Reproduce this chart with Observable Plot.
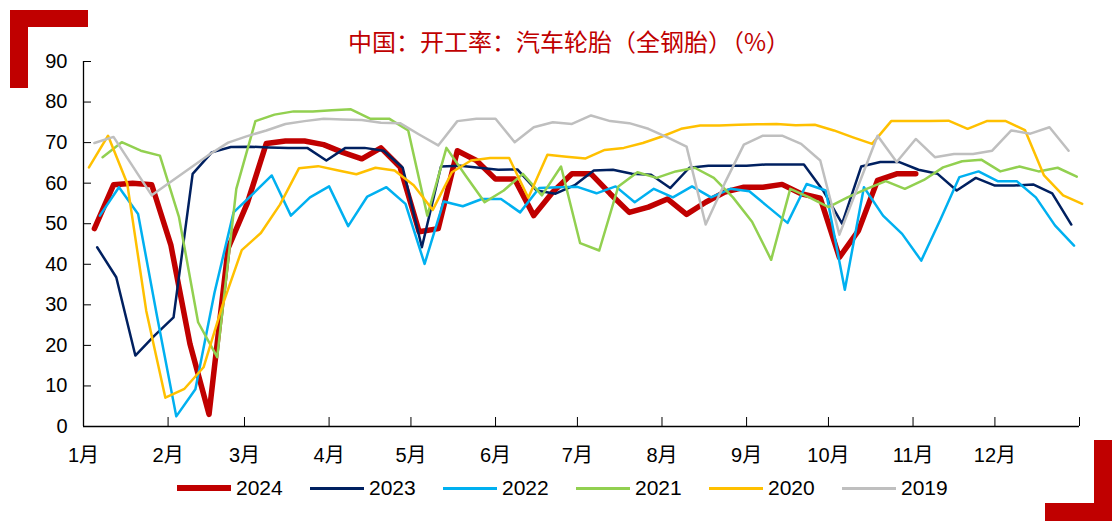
<!DOCTYPE html>
<html><head><meta charset="utf-8">
<script src="https://cdn.jsdelivr.net/npm/d3@7"></script>
<script src="https://cdn.jsdelivr.net/npm/@observablehq/plot@0.6"></script>
<style>
body{margin:0;background:#fff;}
#wrap{position:relative;width:1112px;height:521px;overflow:hidden;background:#fff;font-family:"Liberation Sans",Arial,"Noto Sans CJK SC",sans-serif;}
#title{position:absolute;left:0;width:1138px;top:25px;text-align:center;color:#C00000;font-size:24px;line-height:32px;font-family:"Noto Sans CJK SC",sans-serif;white-space:nowrap;}
.brk{position:absolute;background:#C00000;}
.lg{position:absolute;top:476px;height:24px;}
.sw{position:absolute;left:0;width:54px;}
.lt{position:absolute;left:59px;top:0;font-size:21px;line-height:24px;color:#000;}
svg{position:absolute;left:0;top:0;}
</style></head><body><div id="wrap"></div>
<script>
// ---- data ----
const years = ["2024","2023","2022","2021","2020","2019"];
const colors = ["#C00000","#002060","#00B0F0","#92D050","#FFC000","#BFBFBF"];
const widths = [5.5,2.5,2.5,2.5,2.5,2.5];
// first weekly observation (day in January) of each year
const startDay = [5,6,7,8,3,5];
const monthLabels = ["1月","2月","3月","4月","5月","6月","7月","8月","9月","10月","11月","12月"];
const yTicks = [0,10,20,30,40,50,60,70,80,90];

const v2024 = [48.8,59.6,60,59.6,44.8,20.4,3,44,55,69.8,70.4,70.4,69.5,67.6,66,68.7,64,48,48.8,68,65.6,61,61,52,57.8,62.3,62.3,57.4,52.8,54.1,56.1,52.3,55.3,57.8,59,59,59.7,57.4,56.3,41.7,48.3,60.7,62.3,62.3];
const v2023 = [44.2,36.8,17.5,22.4,26.9,62.3,67.6,68.9,69,68.8,68.7,68.7,65.6,68.7,68.7,68,63.8,44.2,64.1,64.3,63.8,63.3,63.4,58.2,57.4,59.5,63.1,63.3,62.3,62.1,58.8,63.8,64.3,64.3,64.3,64.6,64.6,64.6,58.2,50,64.1,65.2,65.2,63.3,62.3,58.2,61.3,59.4,59.4,59.7,57.5,49.8];
const v2022 = [52,59,52.4,27,2.5,9.2,33,52.8,57.3,61.9,52,56.5,59.2,49.4,56.7,59,54.9,40.1,55.5,54.3,56.1,56.1,52.8,58.8,59,59.1,57.5,59.2,55.3,58.6,56.5,59.2,56.5,58.6,58,54.1,50.2,59.8,58.2,33.7,59,52,47.5,40.9,51,61.5,62.9,60.5,60.5,56.5,49.6,44.6];
const v2021 = [66.4,70.1,68,66.8,51.6,25.7,17.1,58.6,75.3,76.9,77.7,77.7,78,78.2,75.9,75.9,73,52,68.7,61.9,55.3,58.2,62.3,57,64.1,45.2,43.4,59.2,62.7,61.3,62.9,63.8,61.3,56.5,50.5,41.1,58.6,56.5,54.1,56.5,58.6,60.5,58.6,60.8,63.9,65.4,65.8,62.9,64.1,62.9,63.8,61.6];
const v2020 = [63.9,71.7,60,28.5,7.1,9.3,14.6,30,43.5,47.7,54.7,63.7,64.2,63.2,62.2,63.8,63.1,59.5,53.4,62.7,65.6,66.2,66.2,56.4,67,66.5,66.1,68.2,68.7,69.9,71.5,73.4,74.2,74.2,74.4,74.5,74.6,74.3,74.4,73,71.3,69.7,75.3,75.3,75.3,75.4,73.4,75.3,75.3,73.1,61.9,57,54.9];
const v2019 = [69.9,71.4,null,57,null,null,67,70,71.6,73,74.6,75.3,75.9,75.7,75.6,74.9,74.8,72,69.3,75.3,75.9,75.9,70.1,73.8,75,74.6,76.7,75.3,74.8,73.4,71.3,69,49.8,60,69.5,71.7,71.7,69.7,65.6,47.3,59.5,71.7,65.2,70.9,66.4,67.2,67.2,68,73,72.2,73.8,68];
const series = [v2024,v2023,v2022,v2021,v2020,v2019];

// ---- build ----
const wrap = document.getElementById("wrap");
const x0 = new Date(Date.UTC(2001,0,1)), x1 = new Date(Date.UTC(2002,0,1));
const monthTicks = d3.utcMonth.range(x0, d3.utcDay.offset(x1,1));

const lineMarks = series.map((vals,i) => {
  const rows = vals.map((v,k) => ({date:new Date(Date.UTC(2001,0,startDay[i]+7*k)), value:v}))
                   .filter(d => d.value != null);
  return Plot.lineY(rows, {x:"date", y:"value", stroke:colors[i], strokeWidth:widths[i],
                           strokeLinejoin:"round", strokeLinecap:"round"});
});

const chart = Plot.plot({
  width:1112, height:521,
  marginLeft:83, marginRight:33, marginTop:61, marginBottom:95,
  x:{type:"utc", domain:[x0,x1]},
  y:{domain:[0,90]},
  style:{fontFamily:'"Liberation Sans",Arial,"Noto Sans CJK SC",sans-serif', fontSize:"20px", color:"#000", background:"transparent", overflow:"visible"},
  marks:[
    Plot.axisY({ticks:yTicks, tickSize:-8, tickPadding:24, fontSize:20, label:null, stroke:"#000"}),
    Plot.axisX({ticks:monthTicks, tickSize:-9, tickPadding:30, fontSize:20, label:null,
                tickFormat:d => d.getUTCFullYear()===2001 ? monthLabels[d.getUTCMonth()] : ""}),
    Plot.ruleY([0], {stroke:"#000", strokeWidth:1.3}),
    Plot.ruleX([x0], {stroke:"#000", strokeWidth:1.3}),
    ...lineMarks
  ]
});
wrap.appendChild(chart);

// title
const t = document.createElement("div");
t.id = "title";
t.textContent = "中国：开工率：汽车轮胎（全钢胎）（%）";
wrap.appendChild(t);

// corner brackets
[[10,10,78,17],[10,10,18,78],[1045,503,67,18],[1094,440,18,81]].forEach(([l,tp,w,h]) => {
  const b = document.createElement("div"); b.className = "brk";
  Object.assign(b.style,{left:l+"px",top:tp+"px",width:w+"px",height:h+"px"});
  wrap.appendChild(b);
});

// legend
years.forEach((y,i) => {
  const g = document.createElement("div"); g.className = "lg";
  g.style.left = (177 + 133*i) + "px";
  const s = document.createElement("div"); s.className = "sw";
  s.style.background = colors[i];
  s.style.height = (i===0 ? 6 : 3) + "px";
  s.style.top = (12 - (i===0 ? 3 : 1.5)) + "px";
  const tx = document.createElement("div"); tx.className = "lt"; tx.textContent = y;
  g.appendChild(s); g.appendChild(tx);
  wrap.appendChild(g);
});
</script></body></html>
